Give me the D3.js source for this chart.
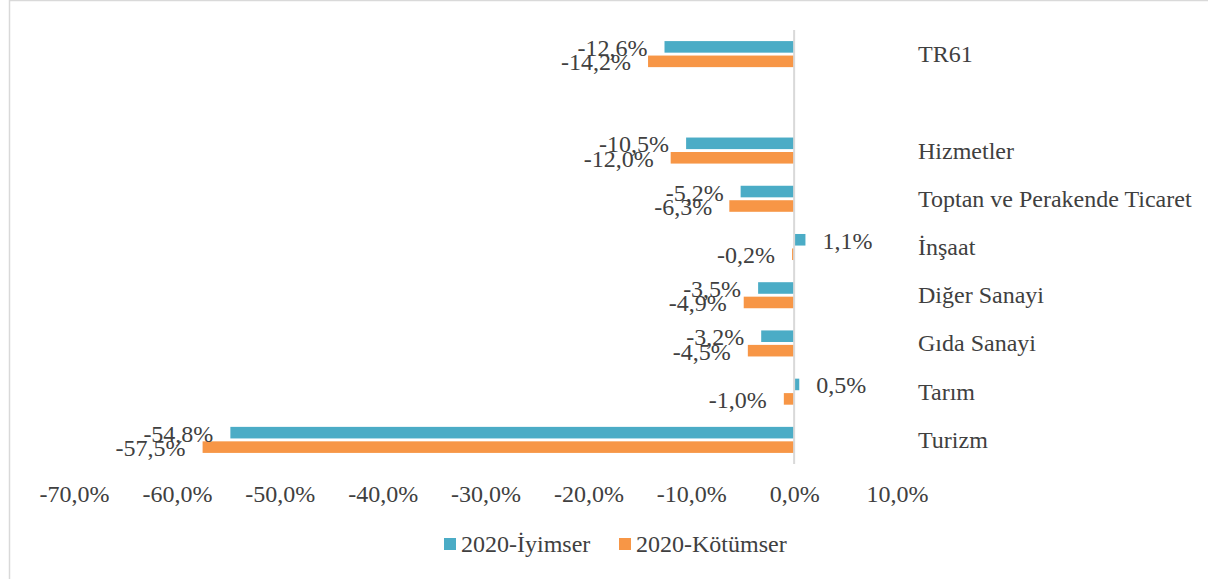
<!DOCTYPE html>
<html>
<head>
<meta charset="utf-8">
<script src="https://cdn.jsdelivr.net/npm/d3@7"></script>
<style>
  body { margin: 0; background: #fff; }
  text { font-family: "Liberation Serif", "Times New Roman", serif; fill: #404040; }
</style>
</head>
<body>
<div id="chart"></div>
<script>
// categories top to bottom (second one is an empty spacer row)
const categories = ["TR61", "", "Hizmetler", "Toptan ve Perakende Ticaret", "İnşaat",
                    "Diğer Sanayi", "Gıda Sanayi", "Tarım", "Turizm"];
const seriesNames = ["2020-İyimser", "2020-Kötümser"];
const iyimser  = [-12.6, null, -10.5, -5.2, 1.1, -3.5, -3.2, 0.5, -54.8];
const kotumser = [-14.2, null, -12.0, -6.3, -0.2, -4.9, -4.5, -1.0, -57.5];
const xTicks = [-70, -60, -50, -40, -30, -20, -10, 0, 10];
const colors = ["#4bacc6", "#f79646"];

const width = 1208, height = 579;
const fontSize = 24;

const trLocale = d3.formatLocale({decimal: ",", thousands: ".", grouping: [3], currency: ["", ""], minus: "-"});
const pct = v => trLocale.format(".1f")(v) + "%";

const svg = d3.select("#chart").append("svg")
    .attr("width", width)
    .attr("height", height);

// chart border
svg.append("rect")
    .attr("x", 9.5).attr("y", 0.5)
    .attr("width", 1210).attr("height", 600)
    .attr("fill", "none")
    .attr("stroke", "#d9d9d9")
    .attr("stroke-width", 1.5);

let x = d3.scaleLinear().domain([-70, 10]).range([74, 897]);
let y = d3.scaleBand().domain(categories).range([30, 464])
    .paddingInner(0.46).paddingOuter(0.23);
let ySub = d3.scaleBand().domain(seriesNames).range([0, y.bandwidth()]).paddingInner(0.2);

// rows of data
let rows = [];
categories.forEach((c, i) => {
    [iyimser[i], kotumser[i]].forEach((v, j) => {
        if (v !== null) rows.push({cat: c, series: seriesNames[j], value: v, color: colors[j]});
    });
});

svg.append("g").selectAll("rect").data(rows).enter().append("rect")
    .attr("x", d => Math.min(x(0), x(d.value)))
    .attr("y", d => y(d.cat) + ySub(d.series))
    .attr("width", d => Math.abs(x(d.value) - x(0)))
    .attr("height", ySub.bandwidth())
    .attr("fill", d => d.color);

// zero line
svg.append("line")
    .attr("x1", x(0)).attr("x2", x(0))
    .attr("y1", y.range()[0]).attr("y2", y.range()[1])
    .attr("stroke", "#d9d9d9")
    .attr("stroke-width", 2);

// data labels
svg.append("g").selectAll("text").data(rows).enter().append("text")
    .attr("x", d => d.value < 0 ? x(d.value) - 17 : x(d.value) + 17)
    .attr("y", d => y(d.cat) + ySub(d.series) + ySub.bandwidth() / 2 + 9)
    .attr("text-anchor", d => d.value < 0 ? "end" : "start")
    .style("font-size", fontSize + "px")
    .text(d => pct(d.value));

// category labels on the right
svg.append("g").selectAll("text").data(categories).enter().append("text")
    .attr("x", 918)
    .attr("y", d => y(d) + y.bandwidth() / 2 + 8)
    .style("font-size", fontSize + "px")
    .text(d => d);

// x axis
let xAxis = d3.axisBottom(x)
    .tickValues(xTicks)
    .tickSize(0)
    .tickPadding(21)
    .tickFormat(d => pct(d));

let axisG = svg.append("g")
    .attr("transform", "translate(0,464)")
    .call(xAxis);
axisG.select(".domain").remove();
axisG.selectAll("text")
    .attr("fill", "#404040")
    .style("font-size", fontSize + "px")
    .style("font-family", "'Liberation Serif', 'Times New Roman', serif");

// legend
let legendX = [444, 619];
let legend = svg.append("g").selectAll("g").data(seriesNames).enter().append("g")
    .attr("transform", (d, i) => "translate(" + legendX[i] + ",538)");
legend.append("rect")
    .attr("width", 12).attr("height", 12)
    .attr("fill", (d, i) => colors[i]);
legend.append("text")
    .attr("x", 17).attr("y", 14)
    .style("font-size", fontSize + "px")
    .text(d => d);
</script>
</body>
</html>
